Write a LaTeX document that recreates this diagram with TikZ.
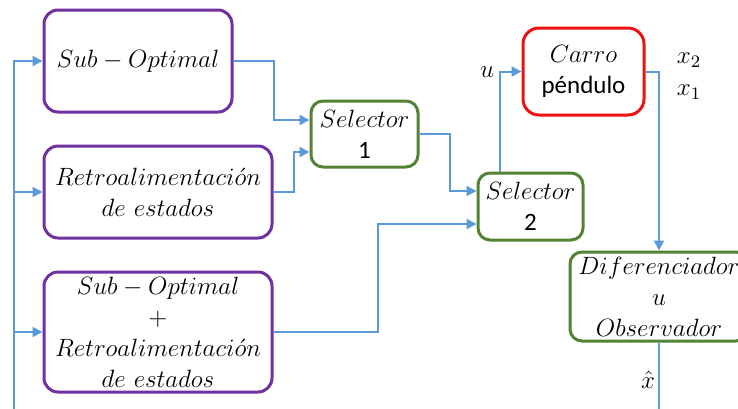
\RequirePackage{fix-cm}
\documentclass[tikz,border=0pt]{standalone}
\usepackage{fontspec}
\newfontfamily\calib{Carlito}
\usetikzlibrary{arrows.meta, positioning}
\definecolor{morado}{HTML}{7030A0}
\definecolor{verde}{HTML}{548235}
\definecolor{rojo}{HTML}{EE1111}
\definecolor{azul}{HTML}{5B9BD5}

\begin{document}
\begin{tikzpicture}[
    x=0.5pt, y=-0.5pt,
    >={Triangle[length=5pt,width=5pt]},
    font=\fontsize{12.5}{15.5}\selectfont,
    % Controller blocks (purple)
    ctrl/.style={draw=morado, line width=1.5pt, rounded corners=7pt, align=center, inner sep=0pt},
    % Selector and observer blocks (green)
    sel/.style={draw=verde, line width=1.5pt, rounded corners=6pt, align=center, inner sep=0pt},
    % Plant block (red)
    plant/.style={draw=rojo, line width=1.5pt, rounded corners=8pt, align=center, inner sep=0pt},
    % Signal lines
    signal/.style={draw=azul, line width=1pt}
]
\path[use as bounding box, clip] (0,0) rectangle (738,408);

% ================= Nodes =================

% 1. Controllers (left column)
\node[ctrl, minimum width=94pt, minimum height=51pt] (subopt) at (138,61) {$Sub-Optimal$};
\node[ctrl, minimum width=114pt, minimum height=46pt] (retro) at (158,192) {$Retroalimentaci\acute{o}n$\\$de\ estados$};
\node[ctrl, minimum width=114pt, minimum height=60pt] (mixto) at (158,332) {$Sub-Optimal$\\$+$\\$Retroalimentaci\acute{o}n$\\$de\ estados$};

% 2. Selectors
\node[sel, minimum width=53.5pt, minimum height=33pt] (sel1) at (364.5,134) {$Selector$\\{\calib 1}};
\node[sel, minimum width=52.5pt, minimum height=33.5pt] (sel2) at (530.5,206.5) {$Selector$\\{\calib 2}};

% 3. Plant and observer
\node[plant, minimum width=60.5pt, minimum height=43.5pt] (carro) at (583.5,71.5) {$Carro$\\{\calib péndulo}};
\node[sel, minimum width=89pt, minimum height=44.5pt] (dif) at (659,296.5) {$Diferenciador$\\$u$\\$Observador$};

% 4. Signal labels
\node (lbl_u) at (487,72) {$u$};
\node (lbl_x2) at (689,60) {$x_2$};
\node (lbl_x1) at (689,92) {$x_1$};
\node (lbl_xh) at (648,380) {$\hat{x}$};

\coordinate (lazo) at (14,430);

% ================= Connections =================

% Controllers to selector 1
\draw[signal, ->] (subopt.east) -- ++(20pt,0) |- ([yshift=7pt]sel1.west);
\draw[signal, ->] (retro.east) -- ++(10pt,0) |- ([yshift=-9pt]sel1.west);

% Selector 1 and mixed controller to selector 2
\draw[signal, ->] (sel1.east) -- ++(15pt,0) |- ([yshift=7.75pt]sel2.west);
\draw[signal, ->] (mixto.east) -- ++(52pt,0) |- ([yshift=-8.75pt]sel2.west);

% Control signal to the plant
\draw[signal, ->] ([xshift=-15.25pt]sel2.north) |- (carro.west);

% Plant outputs to observer
\draw[signal, ->] (carro.east) -| (dif.north);

% Estimated state back to controllers
\draw[signal] (dif.south) |- (lazo);
\draw[signal, ->] (lazo) |- (subopt.west);
\draw[signal, ->] (lazo) |- (retro.west);
\draw[signal, ->] (lazo) |- (mixto.west);

\end{tikzpicture}
\end{document}
